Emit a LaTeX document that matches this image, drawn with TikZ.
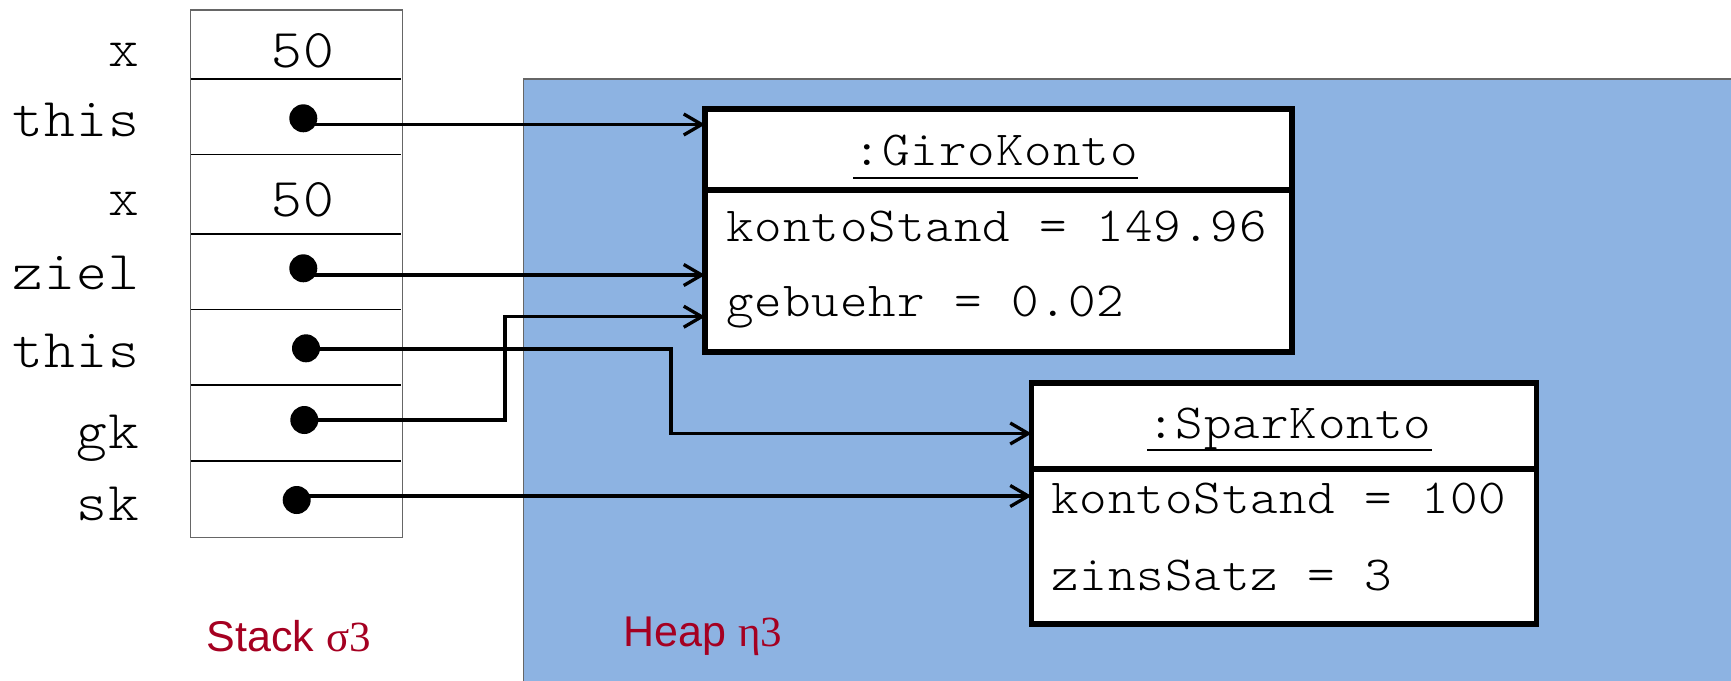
\documentclass[tikz,border=0pt]{standalone}
\usepackage{fontspec}
\usetikzlibrary{arrows.meta}
\newfontfamily\codefont{lmmonolt10-regular.otf}[FakeStretch=1.07,LetterSpace=2.0,WordSpace=1.036]
\newfontfamily\labelfont{Liberation Sans}
\newfontfamily\greekfont{Liberation Serif}
\definecolor{heapblue}{HTML}{8DB3E2}
\definecolor{memred}{HTML}{A50021}
\tikzset{
  objbox/.style={draw,line width=5.5pt,fill=white,inner sep=0pt,outer sep=0pt,anchor=north west},
  attr/.style={inner sep=0pt,font=\codefont\fontsize{49}{57}\selectfont},
  var/.style={inner sep=0pt,font=\codefont\fontsize{54.7}{60}\selectfont},
  ref/.style={->,line width=3.3pt},
  refdot/.style={circle,fill,inner sep=0pt,minimum size=28pt},
  memlabel/.style={inner sep=0pt,anchor=base west,text=memred,font=\labelfont\fontsize{43}{50}\selectfont}
}

\begin{document}
\begin{tikzpicture}[>={Straight Barb[length=18pt,width=21pt]},x=1pt,y=-1pt]
\useasboundingbox (0,0) rectangle (1731,680);
\draw[fill=heapblue,draw=black!60,line width=1.3pt] (523.3,79) rectangle (1740,690);
\draw[draw=black!60,line width=1.3pt] (190.7,10) rectangle (402.3,537.3);
\foreach \y in {79,154.5,234,309.5,385.3,461}
  \draw[line width=1.8pt] (191,\y)--(401,\y);
\foreach[count=\i] \name/\y in {x/66.7,this/136.7,x/215,ziel/289,this/367.3,gk/448.3,sk/520.7}
  \node[var,anchor=base east] (v\i) at (139,\y) {\name};
\node[var,anchor=base] (val1) at (303,67.7) {50};
\node[var,anchor=base] (val2) at (303,216.7) {50};
\node[refdot] (d1) at (303.3,118.3) {};
\node[refdot] (d2) at (303.3,268.3) {};
\node[refdot] (d3) at (306,348.3) {};
\node[refdot] (d4) at (304.3,420) {};
\node[refdot] (d5) at (296.7,500) {};
\node[objbox,minimum width=587pt,minimum height=81pt] (giro) at (705,109) {};
\node[objbox,minimum width=587pt,minimum height=162pt] (girobody) at (705,190) {};
\node[objbox,minimum width=505pt,minimum height=86pt] (spar) at (1031.5,383) {};
\node[objbox,minimum width=505pt,minimum height=155pt] (sparbody) at (1031.5,469) {};
\node[attr,anchor=base] (gname) at (995.7,165) {:GiroKonto};
\draw[line width=2pt] ([yshift=-12.5pt]gname.base west)--([yshift=-12.5pt]gname.base east);
\node[attr,anchor=base west] (ga1) at (726,241.7) {kontoStand = 149.96};
\node[attr,anchor=base west] (ga2) at (726,316.7) {gebuehr = 0.02};
\node[attr,anchor=base] (sname) at (1289.4,438.3) {:SparKonto};
\draw[line width=2pt] ([yshift=-11.7pt]sname.base west)--([yshift=-11.7pt]sname.base east);
\node[attr,anchor=base west] (sa1) at (1051,513.3) {kontoStand = 100};
\node[attr,anchor=base west] (sa2) at (1051,590) {zinsSatz = 3};
\coordinate (g1) at (giro.west |- 0,124.5);
\coordinate (g2) at (girobody.west |- 0,275);
\coordinate (g3) at (girobody.west |- 0,316.7);
\coordinate (s1) at (spar.west |- 0,433.5);
\coordinate (s2) at (sparbody.west |- 0,496);
\draw[ref] ([yshift=-6.2pt]d1.center)--(g1);
\draw[ref] ([yshift=-6.7pt]d2.center)--(g2);
\draw[ref] (d4.center)-|(505,316.7)--(g3);
\draw[ref] ([yshift=-0.7pt]d3.center)-|(671,433.5)--(s1);
\draw[ref] ([yshift=4pt]d5.center)--(s2);
\node[memlabel] (stk) at (206.5,651.7) {Stack {\greekfont σ3}};
\node[memlabel] (hp) at (623.5,646.7) {Heap {\greekfont η3}};
\end{tikzpicture}
\end{document}
